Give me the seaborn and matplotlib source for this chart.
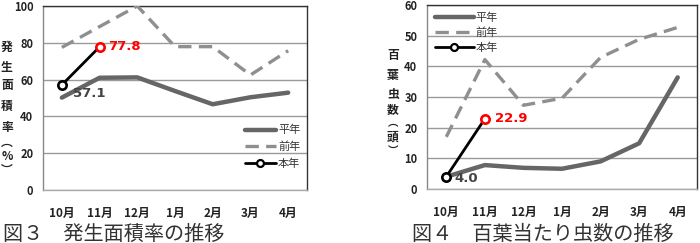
import numpy as np
import pandas as pd
import matplotlib
matplotlib.use("Agg")
import matplotlib.pyplot as plt
import seaborn as sns
from matplotlib.lines import Line2D

sns.set_theme(style="white")
plt.rcParams['font.family'] = ['Noto Sans CJK JP', 'DejaVu Sans']

months = ["10月", "11月", "12月", "1月", "2月", "3月", "4月"]

# Fig.3 発生面積率 (%)
area_normal = [50.2, 61.0, 61.2, 53.8, 46.6, 50.4, 52.9]
area_prev = [77.5, 88.8, 100.0, 77.9, 77.9, 62.5, 75.7]
area_this = [57.1, 77.8]

# Fig.4 百葉当たり虫数 (頭)
pest_normal = [4.0, 7.8, 6.9, 6.6, 9.0, 14.9, 36.4]
pest_prev = [17.0, 42.2, 27.3, 29.6, 42.9, 48.8, 52.7]
pest_this = [4.0, 22.9]

legend_labels = ["平年", "前年", "本年"]

fig = plt.figure(figsize=(7.0, 2.43), dpi=100)
W, H = 700, 243
ax1 = fig.add_axes([43 / W, 53 / H, 264 / W, 184 / H])
ax2 = fig.add_axes([427 / W, 54 / H, 270 / W, 184 / H])

C_NORMAL = "#666666"
C_PREV = "#8f8f8f"


def draw(ax, normal, prev, this, ymax, ystep, this_colors):
    x = np.arange(len(months))
    sns.lineplot(x=x, y=normal, ax=ax, color=C_NORMAL, linewidth=3.2, zorder=3)
    sns.lineplot(x=x, y=prev, ax=ax, color=C_PREV, linewidth=2.4, zorder=3,
                 dashes=False)
    ax.lines[-1].set_dashes([4, 2.2])
    xt = x[:len(this)]
    sns.lineplot(x=xt, y=this, ax=ax, color="black", linewidth=2.0, zorder=4)
    for xi, yi, ec in zip(xt, this, this_colors):
        ax.plot([xi], [yi], marker="o", markersize=6, markerfacecolor="white",
                markeredgecolor=ec, markeredgewidth=1.9, zorder=5, linestyle="none")
    ax.set_xlim(-0.5, len(months) - 0.5)
    ax.set_ylim(0, ymax)
    ax.set_yticks(np.arange(0, ymax + 0.1, ystep))
    ax.set_yticklabels([f"{int(v)}" for v in np.arange(0, ymax + 0.1, ystep)],
                       fontsize=8, fontweight="bold", color="#222222")
    ax.set_xticks(x)
    ax.set_xticklabels(months, fontsize=8.5, fontweight="bold", color="#222222")
    ax.tick_params(axis="both", length=0)
    ax.tick_params(axis="y", pad=7)
    ax.tick_params(axis="x", pad=12)
    ax.yaxis.grid(True, color="#9a9a9a", linewidth=1.0)
    ax.set_axisbelow(True)
    for s in ["top", "right"]:
        ax.spines[s].set_visible(True)
        ax.spines[s].set_color("#333333")
        ax.spines[s].set_linewidth(1.0)
    ax.spines["left"].set_color("#888888")
    ax.spines["left"].set_linewidth(1.0)
    ax.spines["bottom"].set_color("#aaaaaa")
    ax.spines["bottom"].set_linewidth(1.0)
    ax.set_xlabel("")
    ax.set_ylabel("")


draw(ax1, area_normal, area_prev, area_this, 100, 20, ["black", "red"])
draw(ax2, pest_normal, pest_prev, pest_this, 60, 10, ["black", "red"])

# value annotations
ax1.annotate(f"{area_this[0]:.1f}", (0, area_this[0]), xytext=(8, -6),
             textcoords="offset points", fontsize=9.5, fontweight="bold",
             color="#444444", va="center", ha="left", family="DejaVu Sans")
ax1.annotate(f"{area_this[1]:.1f}", (1, area_this[1]), xytext=(6, 0),
             textcoords="offset points", fontsize=9.5, fontweight="bold",
             color="red", va="center", ha="left", family="DejaVu Sans")
ax2.annotate(f"{pest_this[0]:.1f}", (0, pest_this[0]), xytext=(6, -1),
             textcoords="offset points", fontsize=9.5, fontweight="bold",
             color="#444444", va="center", ha="left", family="DejaVu Sans")
ax2.annotate(f"{pest_this[1]:.1f}", (1, pest_this[1]), xytext=(7, 0),
             textcoords="offset points", fontsize=9.5, fontweight="bold",
             color="red", va="center", ha="left", family="DejaVu Sans")

# legends
handles = [
    Line2D([], [], color=C_NORMAL, linewidth=3.2),
    Line2D([], [], color=C_PREV, linewidth=2.4, dashes=[4, 2.2]),
    Line2D([], [], color="black", linewidth=2.0, marker="o", markersize=5,
           markerfacecolor="white", markeredgecolor="black", markeredgewidth=1.6),
]
leg1 = ax1.legend(handles, legend_labels, loc="lower right",
                  bbox_to_anchor=(1.0, 0.08), frameon=False, fontsize=8,
                  handlelength=2.8, handletextpad=0.2, labelspacing=0.55,
                  borderaxespad=0.2)
leg2 = ax2.legend(handles, legend_labels, loc="upper left",
                  bbox_to_anchor=(0.0, 1.0), frameon=False, fontsize=8,
                  handlelength=3.5, handletextpad=0.2, labelspacing=0.4,
                  borderaxespad=0.3)
for lg in (leg1, leg2):
    for t in lg.get_texts():
        t.set_color("#333333")

# vertical y labels
ylab1 = ["発", "生", "面", "積", "率", "︵", "%", "︶"]
ylab1_y = [47, 67, 86, 106, 127, 142, 157, 170]
for ch, yy in zip(ylab1, ylab1_y):
    fig.text(7 / W, 1 - yy / H, ch, fontsize=8.5, fontweight="bold",
             ha="center", va="center", color="#222222")
ylab2 = ["百", "葉", "虫", "数", "︵", "頭", "︶"]
ylab2_y = [55, 76, 94, 110, 123, 137, 152]
for ch, yy in zip(ylab2, ylab2_y):
    fig.text(393 / W, 1 - yy / H, ch, fontsize=8.5 if ch not in "︵︶" else 7.5,
             fontweight="bold", ha="center", va="center", color="#222222")

# captions
fig.text(3 / W, 1 - 234 / H, "図３　発生面積率の推移", fontsize=14.5,
         ha="left", va="center", color="#333333")
fig.text(412 / W, 1 - 234 / H, "図４　百葉当たり虫数の推移", fontsize=14.5,
         ha="left", va="center", color="#333333")

fig.savefig("out.png", dpi=100)
